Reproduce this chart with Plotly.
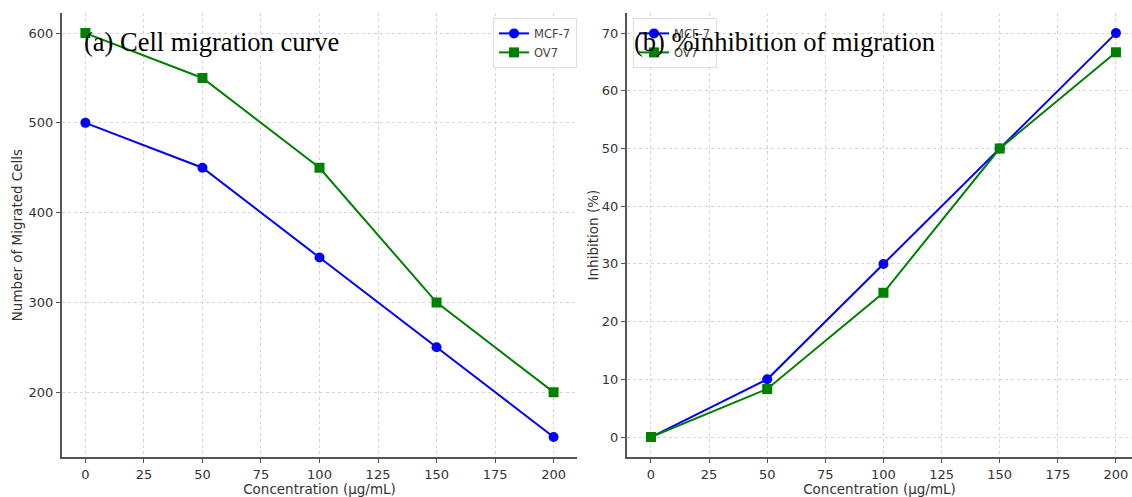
import plotly.graph_objects as go

conc = [0, 50, 100, 150, 200]
mcf7_cells = [500, 450, 350, 250, 150]
ov7_cells = [600, 550, 450, 300, 200]
mcf7_inhib = [0, 10, 30, 50, 70]
ov7_inhib = [0, 8.33, 25, 50, 66.67]

x_ticks = [0, 25, 50, 75, 100, 125, 150, 175, 200]
W, H = 1132, 497

fig = go.Figure()
blue = "#0000ff"
green = "#008000"

def add(x, y, name, color, symbol, xa, ya, legend):
    fig.add_trace(go.Scatter(
        x=x, y=y, name=name, mode="lines+markers",
        line=dict(color=color, width=2),
        marker=dict(color=color, symbol=symbol, size=10),
        xaxis=xa, yaxis=ya, legend=legend))

add(conc, mcf7_cells, "MCF-7", blue, "circle", "x", "y", "legend")
add(conc, ov7_cells, "OV7", green, "square", "x", "y", "legend")
add(conc, mcf7_inhib, "MCF-7", blue, "circle", "x2", "y2", "legend2")
add(conc, ov7_inhib, "OV7", green, "square", "x2", "y2", "legend2")

ydom = [1 - 460 / H, 1 - 13 / H]
axcommon = dict(showline=True, linecolor="#555555", linewidth=2,
                ticks="outside", ticklen=4, tickcolor="#555555",
                showgrid=True, gridcolor="#d9d3d9", griddash="3px,3px", gridwidth=1,
                zeroline=False, tickfont=dict(family="DejaVu Sans", size=13, color="#333333"),
                mirror=False)
tfont = dict(family="DejaVu Sans", size=13.5, color="#333333")

fig.update_layout(
    width=W, height=H, margin=dict(l=0, r=0, t=0, b=0),
    plot_bgcolor="white", paper_bgcolor="white",
    xaxis=dict(domain=[62 / W, 577 / W], range=[-10, 210], tickvals=x_ticks,
               title=dict(text="Concentration (µg/mL)", standoff=6, font=tfont),
               anchor="y", **axcommon),
    yaxis=dict(domain=ydom, range=[127.5, 622.5], tickvals=[200, 300, 400, 500, 600],
               title=dict(text="Number of Migrated Cells", standoff=3, font=tfont),
               anchor="x", **axcommon),
    xaxis2=dict(domain=[627 / W, 1.0], range=[-10.3, 206.9], tickvals=x_ticks,
                title=dict(text="Concentration (µg/mL)", standoff=6, font=tfont),
                anchor="y2", **axcommon),
    yaxis2=dict(domain=ydom, range=[-3.5, 73.5], tickvals=[0, 10, 20, 30, 40, 50, 60, 70],
                title=dict(text="Inhibition (%)", standoff=0, font=tfont),
                anchor="x2", **axcommon),
    legend=dict(x=493 / W, y=1 - 18 / H, xanchor="left", yanchor="top",
                bgcolor="rgba(255,255,255,0.8)", bordercolor="#dddddd", borderwidth=1,
                font=dict(family="DejaVu Sans", size=11.5, color="#444444"),
                itemwidth=30, tracegroupgap=0),
    legend2=dict(x=633 / W, y=1 - 18 / H, xanchor="left", yanchor="top",
                 bgcolor="rgba(255,255,255,0.8)", bordercolor="#dddddd", borderwidth=1,
                 font=dict(family="DejaVu Sans", size=11.5, color="#444444"),
                 itemwidth=30, tracegroupgap=0),
    annotations=[
        dict(text="(a) Cell migration curve", xref="paper", yref="paper",
             x=82 / W, y=1 - 25 / H, xanchor="left", yanchor="top", showarrow=False,
             font=dict(family="Liberation Serif", size=26.5, color="black")),
        dict(text="(b) %inhibition of migration", xref="paper", yref="paper",
             x=632 / W, y=1 - 25 / H, xanchor="left", yanchor="top", showarrow=False,
             font=dict(family="Liberation Serif", size=26.5, color="black")),
    ],
)

fig.write_html("out.html")
